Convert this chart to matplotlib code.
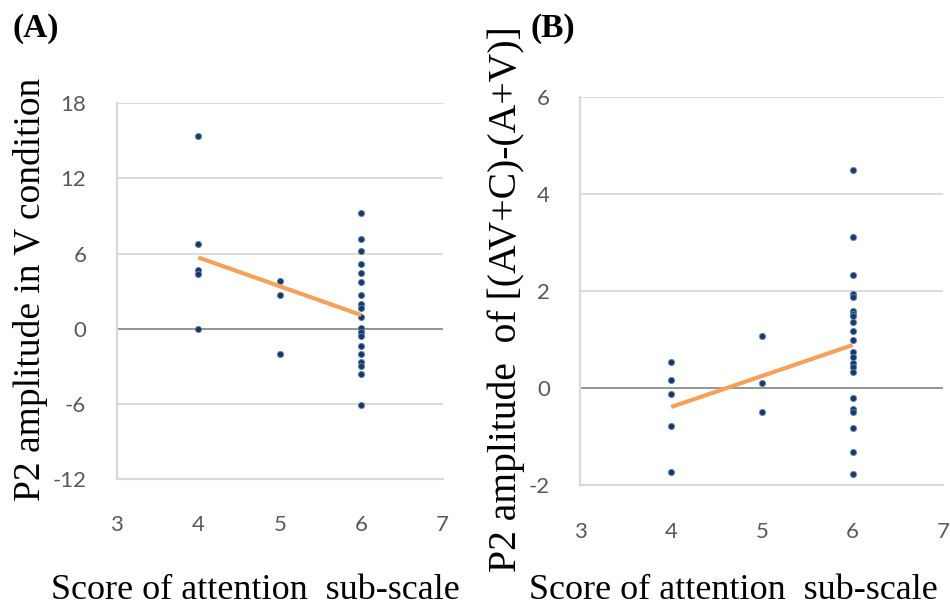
import numpy as np
import matplotlib.pyplot as plt

plt.rcParams['axes.unicode_minus'] = False

# panel A: P2 amplitude in V condition vs attention score
a_x4 = [15.4, 6.8, 4.7, 4.4, 0.0]
a_x5 = [3.8, 2.7, -2.05]
a_x6 = [9.2, 7.17, 6.17, 5.14, 4.48, 3.69, 2.72, 1.95, 1.69, 0.9, 0.08,
        -0.29, -0.58, -1.42, -2.0, -2.69, -2.97, -3.6, -6.1]

# panel B: P2 amplitude of [(AV+C)-(A+V)]
b_x4 = [0.54, 0.18, -0.12, -0.77, -1.72]
b_x5 = [1.08, 0.10, -0.49]
b_x6 = [4.5, 3.12, 2.33, 1.94, 1.88, 1.6, 1.54, 1.48, 1.37, 1.17, 1.0,
        0.75, 0.64, 0.53, 0.44, 0.34, -0.2, -0.43, -0.48, -0.81, -1.32, -1.77]

xticks = [3, 4, 5, 6, 7]
a_yticks = [-12, -6, 0, 6, 12, 18]
b_yticks = [-2, 0, 2, 4, 6]

dot_col = '#1b3a63'
trend_col = '#f4a25a'
grid_col = '#d9d9d9'
tick_font = 'Lato'
label_font = 'Liberation Serif'


def panel(ax, groups, yticks):
    xs = []
    ys = []
    for xv, vals in zip([4, 5, 6], groups):
        xs += [xv] * len(vals)
        ys += vals
    xs = np.array(xs, dtype=float)
    ys = np.array(ys)
    ax.scatter(xs, ys, s=20, color=dot_col, edgecolors='#5b86c0',
               linewidths=0.6, zorder=3)
    k, b = np.polyfit(xs, ys, 1)
    tx = np.array([xs.min(), xs.max()])
    ax.plot(tx, k * tx + b, color=trend_col, lw=3, zorder=4,
            solid_capstyle='butt')
    ax.set_xlim(3, 7)
    ax.set_ylim(yticks[0], yticks[-1])
    ax.set_xticks(xticks)
    ax.set_yticks(yticks)
    for y in yticks[1:]:
        c = '#8c8c8c' if y == 0 else grid_col
        ax.axhline(y, color=c, lw=1.3, zorder=1)
    for s in ['top', 'right']:
        ax.spines[s].set_visible(False)
    for s in ['left', 'bottom']:
        ax.spines[s].set_color(grid_col)
        ax.spines[s].set_linewidth(1.6)
    ax.tick_params(length=0, labelsize=16, labelcolor='#595959')
    ax.tick_params(axis='y', pad=22)
    ax.tick_params(axis='x', pad=26)
    for lab in ax.get_xticklabels() + ax.get_yticklabels():
        lab.set_fontfamily(tick_font)


fig = plt.figure(figsize=(9.5, 6.06), dpi=100)
axA = fig.add_axes([0.123, 0.2096, 0.343, 0.620])
axB = fig.add_axes([0.611, 0.199, 0.382, 0.641])

panel(axA, [a_x4, a_x5, a_x6], a_yticks)
panel(axB, [b_x4, b_x5, b_x6], b_yticks)

fig.text(13 / 950, 1 - 29 / 606, '(A)', fontsize=24, fontweight='bold',
         family=label_font, va='center', ha='left')
fig.text(530 / 950, 1 - 29 / 606, '(B)', fontsize=24, fontweight='bold',
         family=label_font, va='center', ha='left')

fig.text(255 / 950, 1 - 599 / 606, 'Score of attention  sub-scale',
         fontsize=26, family=label_font, ha='center', va='baseline')
fig.text(733 / 950, 1 - 599 / 606, 'Score of attention  sub-scale',
         fontsize=26, family=label_font, ha='center', va='baseline')
fig.text(31 / 950, 1 - 289 / 606, 'P2 amplitude in V condition',
         fontsize=27, family=label_font, ha='center', va='center',
         rotation=90)
fig.text(506 / 950, 1 - 299 / 606, 'P2 amplitude  of [(AV+C)-(A+V)]',
         fontsize=28.5, family=label_font, ha='center', va='center',
         rotation=90)

fig.savefig('out.png', dpi=100)
